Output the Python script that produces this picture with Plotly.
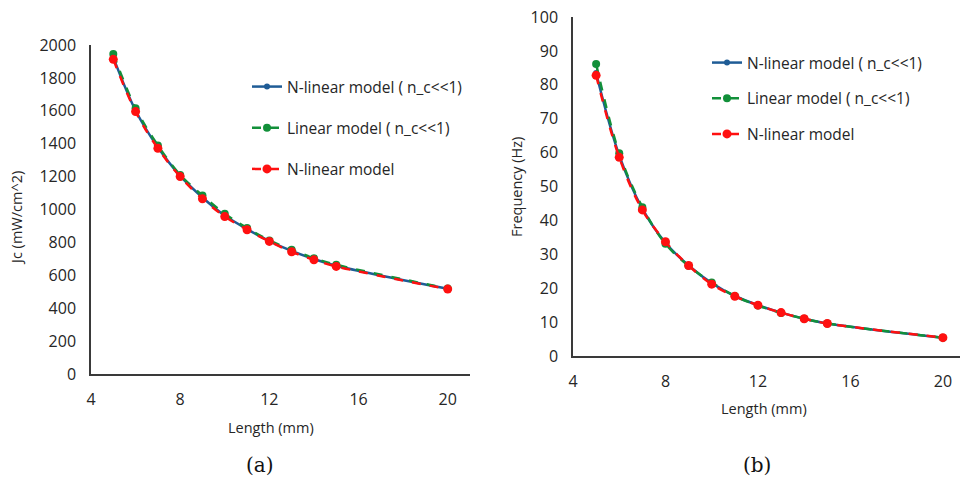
import plotly.graph_objects as go

# ---- data ----
length = [5, 6, 7, 8, 9, 10, 11, 12, 13, 14, 15, 20]

jc_nlin_nc = [1925, 1602, 1378, 1204, 1073, 963, 881, 808, 748, 699, 658, 518]
jc_lin_nc = [1945, 1615, 1389, 1210, 1085, 974, 887, 812, 755, 704, 664, 520]
jc_nlin = [1913, 1595, 1372, 1200, 1065, 957, 877, 806, 743, 694, 654, 516]

f_nlin_nc = [83.5, 59.2, 43.5, 33.4, 26.7, 21.5, 17.7, 15.0, 12.8, 11.0, 9.6, 5.4]
f_lin_nc = [86.1, 59.8, 43.9, 33.1, 26.6, 21.7, 17.7, 14.9, 12.7, 11.0, 9.6, 5.4]
f_nlin = [82.8, 58.6, 43.1, 33.7, 26.7, 21.2, 17.6, 15.0, 12.8, 11.0, 9.6, 5.4]

names = ["N-linear model ( n_c<<1)", "Linear model ( n_c<<1)", "N-linear model"]
jc_ticks = list(range(0, 2001, 200))
f_ticks = list(range(0, 101, 10))
x_ticks = [4, 8, 12, 16, 20]

BLUE = "#1f5c96"
GREEN = "#12903a"
RED = "#ff1010"

W, H = 960, 481
def px(x):
    return x / W
def py(y):
    return (H - y) / H

fig = go.Figure()

styles = [
    dict(color=BLUE, dash="solid", size=6),
    dict(color=GREEN, dash="dash", size=8),
    dict(color=RED, dash="dash", size=9),
]

for i, (ys, st) in enumerate(zip([jc_nlin_nc, jc_lin_nc, jc_nlin], styles)):
    fig.add_trace(go.Scatter(
        x=length, y=ys, name=names[i], mode="lines+markers",
        line=dict(color=st["color"], width=2.5, dash=st["dash"], shape="spline"),
        marker=dict(color=st["color"], size=st["size"]),
        xaxis="x", yaxis="y", legend="legend", legendgroup="a%d" % i,
    ))
for i, (ys, st) in enumerate(zip([f_nlin_nc, f_lin_nc, f_nlin], styles)):
    fig.add_trace(go.Scatter(
        x=length, y=ys, name=names[i], mode="lines+markers",
        line=dict(color=st["color"], width=2.5, dash=st["dash"], shape="spline"),
        marker=dict(color=st["color"], size=st["size"]),
        xaxis="x2", yaxis="y2", legend="legend2", legendgroup="b%d" % i,
    ))

FONT = "Open Sans, Noto Sans, sans-serif"
tickfont = dict(family=FONT, size=16, color="#262626")
axis_common = dict(showgrid=False, zeroline=False, showline=True, automargin=False,
                   linecolor="#3a3a3a", linewidth=1.5, ticks="",
                   tickfont=tickfont, ticklabelstandoff=10)

legfont = dict(family=FONT, size=15.5, color="#262626")
fig.update_layout(
    width=W, height=H,
    margin=dict(l=0, r=0, t=0, b=0, autoexpand=False),
    paper_bgcolor="white", plot_bgcolor="white",
    xaxis=dict(domain=[px(91), px(470)], range=[4, 21], tickvals=x_ticks,
               anchor="y", **axis_common),
    yaxis=dict(domain=[py(374), py(45)], range=[0, 2000], tickvals=jc_ticks,
               anchor="x", **axis_common),
    xaxis2=dict(domain=[px(573), 1.0], range=[4, 20.74], tickvals=x_ticks,
                anchor="y2", **axis_common),
    yaxis2=dict(domain=[py(356), py(17)], range=[0, 100], tickvals=f_ticks,
                anchor="x2", **axis_common),
    legend=dict(x=px(247), y=py(70), xanchor="left", yanchor="top",
                traceorder="grouped", tracegroupgap=18, font=legfont,
                bgcolor="rgba(0,0,0,0)"),
    legend2=dict(x=px(707), y=py(46), xanchor="left", yanchor="top",
                 traceorder="grouped", tracegroupgap=12.5, font=legfont,
                 bgcolor="rgba(0,0,0,0)"),
    showlegend=True,
)

titlefont = dict(family=FONT, size=14.5, color="#262626")
ann = [
    dict(text="Length (mm)", x=px(271), y=py(427), textangle=0),
    dict(text="Jc (mW/cm^2)", x=px(16), y=py(218), textangle=-90),
    dict(text="Length (mm)", x=px(764), y=py(408), textangle=0),
    dict(text="Frequency (Hz)", x=px(517), y=py(187), textangle=-90),
]
for a in ann:
    fig.add_annotation(xref="paper", yref="paper", showarrow=False,
                       xanchor="center", yanchor="middle", font=titlefont, **a)

capfont = dict(family="DejaVu Serif, Liberation Serif, serif", size=20, color="#111111")
fig.add_annotation(text="(a)", x=px(260), y=py(465), xref="paper", yref="paper",
                   showarrow=False, xanchor="center", yanchor="middle", font=capfont)
fig.add_annotation(text="(b)", x=px(757), y=py(465), xref="paper", yref="paper",
                   showarrow=False, xanchor="center", yanchor="middle", font=capfont)

fig.write_html("out.html")
